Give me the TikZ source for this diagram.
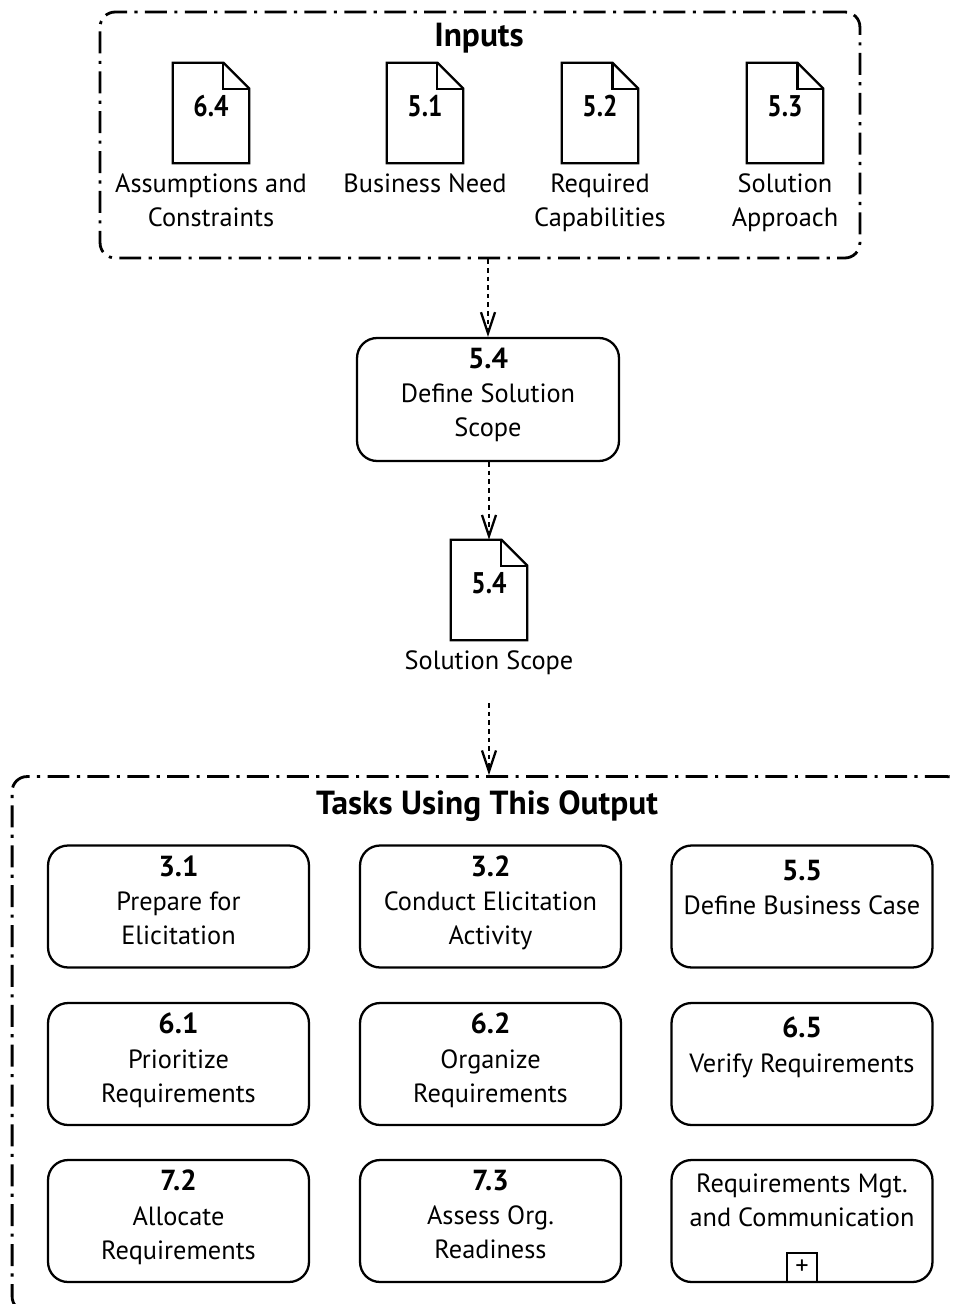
\documentclass[tikz,border=0pt]{standalone}
\usepackage{fontspec}
\setmainfont{PT Sans}
\newfontfamily\docnumfont{PT Sans}[FakeStretch=0.85]
\usetikzlibrary{arrows.meta,positioning,calc}
\tikzset{
    frame line/.style={line width=1.6pt,dash pattern=on 12.5pt off 4.2pt on 1.8pt off 4.2pt},
    box line/.style={line width=1.3pt},
    container/.style={frame line,draw,rounded corners=0.3cm,inner sep=0pt},
    task/.style={draw,box line,rounded corners=0.4cm,minimum width=5.22cm,minimum height=2.44cm,inner sep=0pt},
    tasktext/.style={anchor=north,align=center,inner sep=0pt,font=\fontsize{15}{19.4}\selectfont},
    doc/.style={minimum width=1.52cm,minimum height=2cm,inner sep=0pt},
    docnum/.style={font=\docnumfont\bfseries\fontsize{17}{18}\selectfont,inner sep=0pt},
    doclabel/.style={align=center,inner sep=0pt,font=\fontsize{15}{19.4}\selectfont},
    frametitle/.style={font=\bfseries\fontsize{19}{22}\selectfont,inner sep=0pt},
    darr/.style={-{Straight Barb[length=12pt,width=8pt,line width=1.3pt]},line width=1.3pt,dash pattern=on 2.6pt off 2.3pt},
}
\newcommand{\docoutline}[1]{%
    \draw[box line] (#1.north west) -- ([xshift=-0.52cm]#1.north east) -- ([yshift=-0.52cm]#1.north east) -- (#1.south east) -- (#1.south west) -- cycle;
    \draw[box line] ([xshift=-0.52cm]#1.north east) |- ([yshift=-0.52cm]#1.north east);
}
\begin{document}
\begin{tikzpicture}[x=0.02cm,y=-0.02cm]
    \useasboundingbox (0,0) rectangle (954,1304);

    % inputs
    \node[container,minimum width=15.2cm,minimum height=4.92cm] (inputs) at (480,135) {};
    \node[frametitle] (inputstitle) at (479,38) {Inputs};
    \foreach \name/\x/\num in {d64/211/6.4,d51/425/5.1,d52/600/5.2,d53/785/5.3} {
        \node[doc] (\name) at (\x,113) {};
        \docoutline{\name}
        \node[docnum] at ([yshift=0.14cm]\name.center) {\num};
    }
    \node[doclabel,below=0.2cm of d64] (l64) {Assumptions and\\Constraints};
    \node[doclabel,below=0.2cm of d51] (l51) {Business Need};
    \node[doclabel,below=0.2cm of d52] (l52) {Required\\Capabilities};
    \node[doclabel,below=0.2cm of d53] (l53) {Solution\\Approach};

    % task and output
    \node[task,minimum width=5.24cm,minimum height=2.46cm] (define) at (488,399.5) {};
    \node[tasktext,below=0.22cm of define.north] {\textbf{\fontsize{16.5}{19.4}\selectfont 5.4}\\Define Solution\\Scope};
    \node[doc] (scope) at (489,590) {};
    \docoutline{scope}
    \node[docnum] at ([yshift=0.14cm]scope.center) {5.4};
    \node[doclabel,below=0.2cm of scope] (scopelabel) {Solution Scope};

    \draw[darr] (inputs.south -| define.north) -- (define.north);
    \draw[darr] (define.south -| scope.north) -- (scope.north);

    % tasks using this output
    \node[container,minimum width=19cm,minimum height=10.7cm] (tasks) at (487,1044) {};
    \node[frametitle] (taskstitle) at (487,806) {Tasks Using This Output};
    \draw[darr,shorten <=16pt] (scopelabel.south) -- (scopelabel.south |- tasks.north);

    \node[task] (t31) at (178.5,906.5) {};
    \node[task] (t32) at (490.5,906.5) {};
    \node[task] (t55) at (802,906.5) {};
    \node[task] (t61) at (178.5,1064) {};
    \node[task] (t62) at (490.5,1064) {};
    \node[task] (t65) at (802,1064) {};
    \node[task] (t72) at (178.5,1221) {};
    \node[task] (t73) at (490.5,1221) {};
    \node[task] (trmc) at (802,1221) {};
    \node[tasktext,below=0.22cm of t31.north] {\textbf{\fontsize{16.5}{19.4}\selectfont 3.1}\\Prepare for\\Elicitation};
    \node[tasktext,below=0.22cm of t32.north] {\textbf{\fontsize{16.5}{19.4}\selectfont 3.2}\\Conduct Elicitation\\Activity};
    \node[tasktext,below=0.3cm of t55.north] {\textbf{\fontsize{16.5}{19.4}\selectfont 5.5}\\Define Business Case};
    \node[tasktext,below=0.22cm of t61.north] {\textbf{\fontsize{16.5}{19.4}\selectfont 6.1}\\Prioritize\\Requirements};
    \node[tasktext,below=0.22cm of t62.north] {\textbf{\fontsize{16.5}{19.4}\selectfont 6.2}\\Organize\\Requirements};
    \node[tasktext,below=0.3cm of t65.north] {\textbf{\fontsize{16.5}{19.4}\selectfont 6.5}\\Verify Requirements};
    \node[tasktext,below=0.22cm of t72.north] {\textbf{\fontsize{16.5}{19.4}\selectfont 7.2}\\Allocate\\Requirements};
    \node[tasktext,below=0.22cm of t73.north] {\textbf{\fontsize{16.5}{19.4}\selectfont 7.3}\\Assess Org.\\Readiness};
    \node[tasktext,below=0.3cm of trmc.north] {Requirements Mgt.\\and Communication};
    \node[draw,box line,minimum width=0.6cm,minimum height=0.58cm,inner sep=0pt,anchor=south,font=\fontsize{15}{15}\selectfont] (plus) at (trmc.south) {+};
\end{tikzpicture}
\end{document}
